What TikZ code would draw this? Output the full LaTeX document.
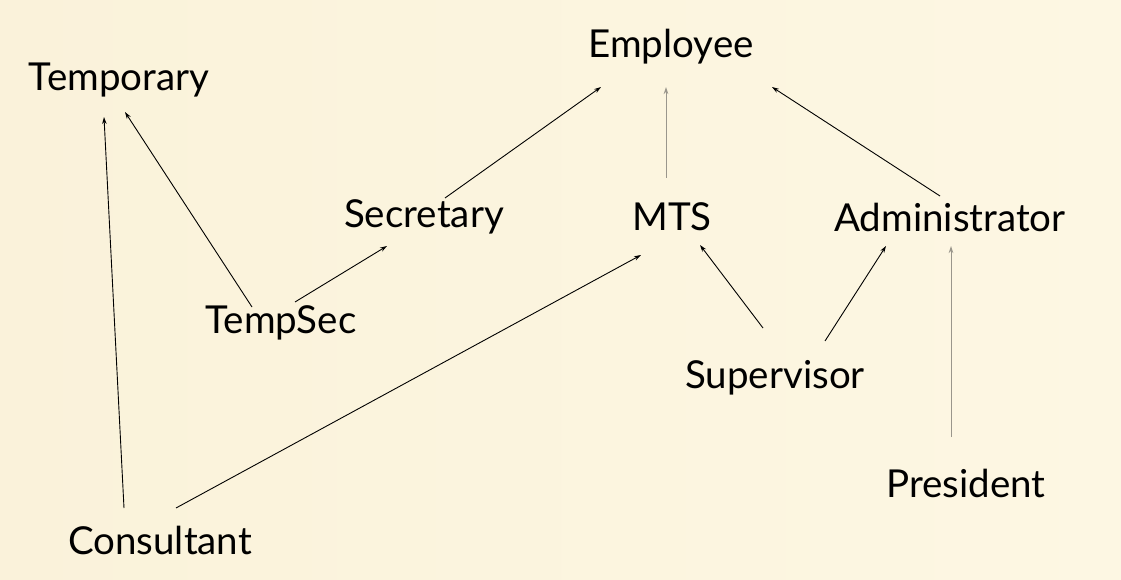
\documentclass[tikz,border=0pt]{standalone}
\usepackage{fontspec}
\setmainfont{Lato}
\usetikzlibrary{arrows.meta}
\definecolor{bgdark}{HTML}{FAF2DA}
\definecolor{bglight}{HTML}{FDF7E3}
\definecolor{linkgray}{HTML}{9A968C}
\tikzset{
  cls/.style={inner sep=0pt, font=\fontsize{38.5}{42}\selectfont, text=black},
  link/.style={draw=black, line width=0.9pt, -{Stealth[length=7pt,width=4.5pt]}},
  softlink/.style={link, draw=linkgray},
}
\begin{document}
\begin{tikzpicture}[x=1pt,y=-1pt]
\useasboundingbox (0,0) rectangle (1121,580);
\shade[shading angle=45, left color=bgdark, right color=bglight] (0,0) rectangle (1121,580);

\node[cls] (emp) at (671,47) {Employee};
\node[cls] (temp) at (119,80) {Temporary};
\node[cls] (sec) at (424,217) {Secretary};
\node[cls] (mts) at (672,217) {MTS};
\node[cls] (adm) at (950,217) {Administrator};
\node[cls] (tsec) at (281,323) {TempSec};
\node[cls] (sup) at (775,378) {Supervisor};
\node[cls] (pres) at (966,483) {President};
\node[cls] (cons) at (160,540) {Consultant};

\coordinate (empL) at (601,87);
\coordinate (empM) at (666,87);
\coordinate (empR) at (772,87);
\coordinate (secT) at (445,198);
\coordinate (secB) at (387,246);
\coordinate (mtsT) at (666,178);
\coordinate (mtsBL) at (641,255);
\coordinate (mtsBR) at (700,245);
\coordinate (admT) at (940,196);
\coordinate (admBL) at (886,246);
\coordinate (admBR) at (951,246);
\coordinate (tempBL) at (104,117);
\coordinate (tempBR) at (125,112);
\coordinate (tsecL) at (252,307);
\coordinate (tsecR) at (295,302);
\coordinate (supL) at (763,328);
\coordinate (supR) at (825,341);
\coordinate (presT) at (951,437);
\coordinate (consL) at (124,508);
\coordinate (consR) at (176,508);

\draw[link] (secT) -- (empL);
\draw[softlink] (mtsT) -- (empM);
\draw[link] (admT) -- (empR);
\draw[link] (tsecL) -- (tempBR);
\draw[link] (tsecR) -- (secB);
\draw[link] (consL) -- (tempBL);
\draw[link] (consR) -- (mtsBL);
\draw[link] (supL) -- (mtsBR);
\draw[link] (supR) -- (admBL);
\draw[softlink] (presT) -- (admBR);
\end{tikzpicture}
\end{document}
